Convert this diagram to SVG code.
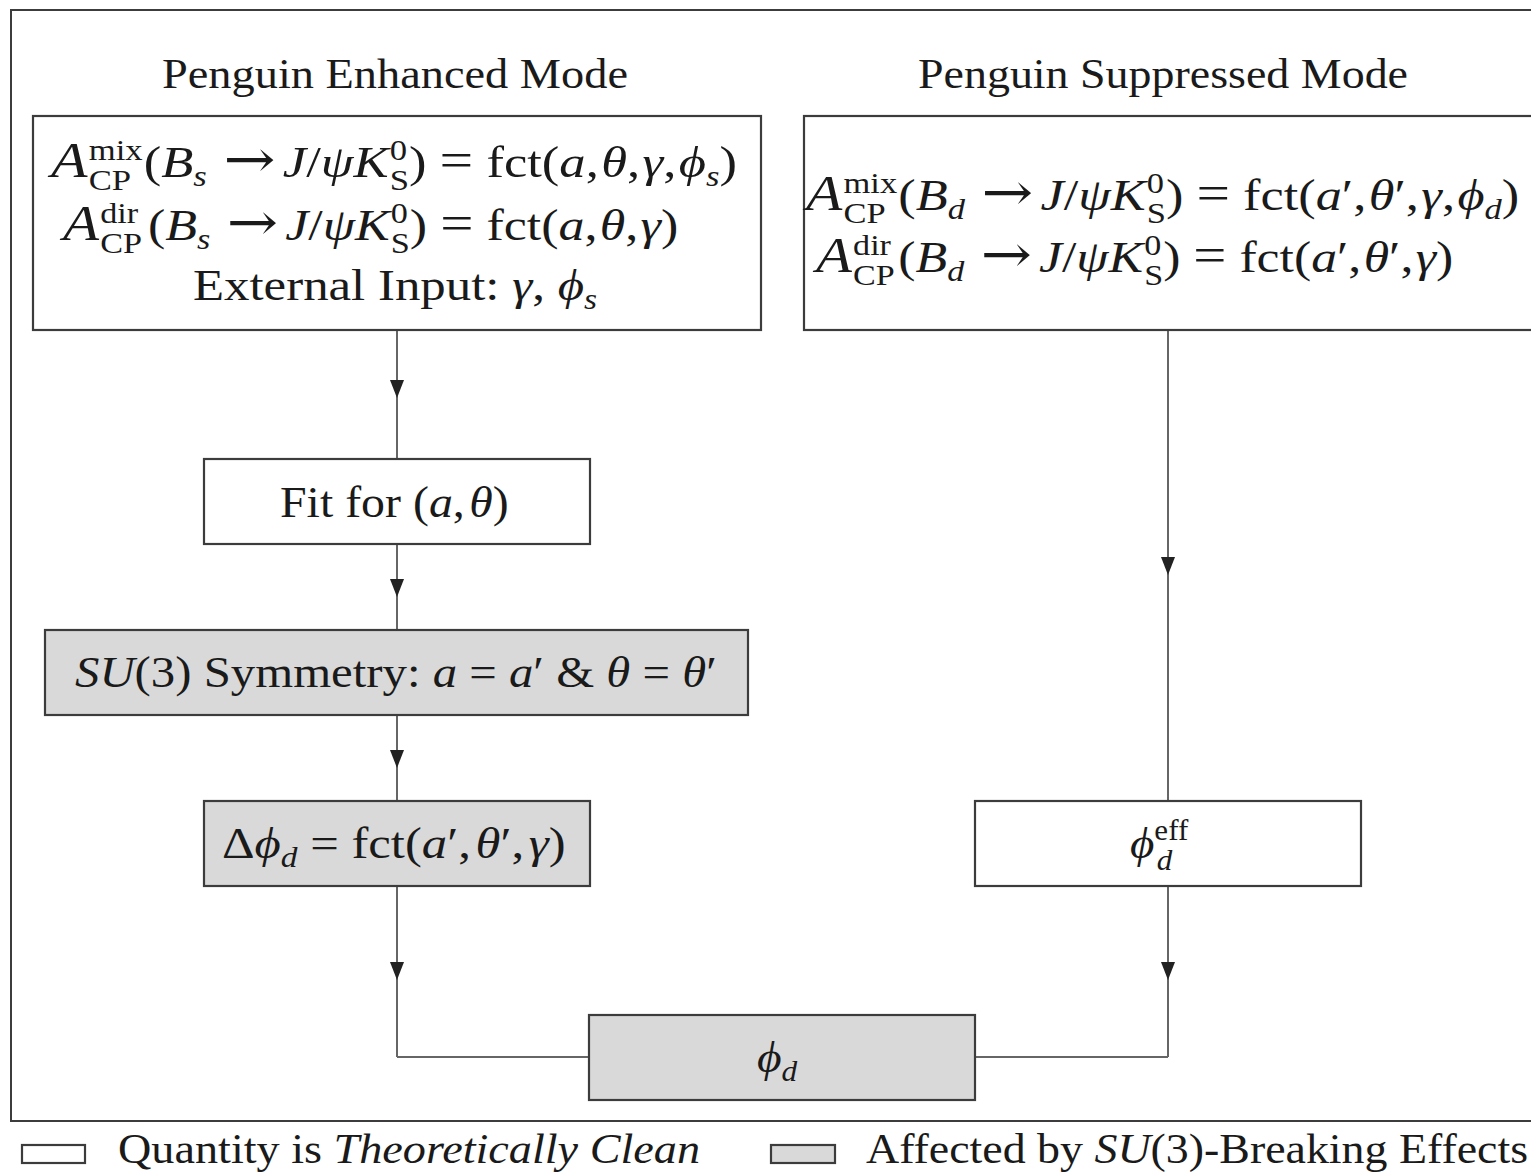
<svg xmlns="http://www.w3.org/2000/svg" width="1531" height="1172" viewBox="0 0 1531 1172">
<style>
.t{font-family:"Liberation Serif","DejaVu Serif",serif;font-size:44px;fill:#1a1a1a}
.h{font-size:42px}
.i{font-style:italic}
.big{font-size:50px}
.eq{font-size:50px}
.s{font-size:29px}
.ar{font-family:"DejaVu Serif","Liberation Serif",serif;font-size:52px}
.box{stroke:#3c3c3c;stroke-width:2.2;fill:#fff}
.gr{fill:#d9d9d9}
.ln{stroke:#666;stroke-width:2;fill:none}
</style>
<defs>
<marker id="ah" markerUnits="userSpaceOnUse" viewBox="-18 -8 19 16" markerWidth="19" markerHeight="16" refX="0" refY="0" orient="auto">
<path d="M-18,-7 L0,0 L-18,7 z" fill="#222"/>
</marker>
</defs>
<rect x="11" y="10" width="1530" height="1111" fill="#fff" stroke="#3c3c3c" stroke-width="2"/>
<text class="t h" x="395" y="88" text-anchor="middle" textLength="466" lengthAdjust="spacingAndGlyphs">Penguin Enhanced Mode</text>
<text class="t h" x="1163" y="88" text-anchor="middle" textLength="490" lengthAdjust="spacingAndGlyphs">Penguin Suppressed Mode</text>

<g id="connectors">
<path class="ln" d="M397 330 V398 V459" marker-mid="url(#ah)"/>
<path class="ln" d="M397 544 V597 V630" marker-mid="url(#ah)"/>
<path class="ln" d="M397 715 V768 V801" marker-mid="url(#ah)"/>
<path class="ln" d="M397 886 V980 V1057" marker-mid="url(#ah)"/>
<path class="ln" d="M397 1057 H589"/>
<path class="ln" d="M1168 330 V575 V801" marker-mid="url(#ah)"/>
<path class="ln" d="M1168 886 V980 V1057" marker-mid="url(#ah)"/>
<path class="ln" d="M1168 1057 H975"/>
</g>

<g id="enhanced">
<rect class="box" x="33" y="116" width="728" height="214"/>
<g transform="translate(51,177) scale(1.195,1)"><text class="t"><tspan class="i big">A</tspan><tspan class="s" dx="1" dy="-17">mix</tspan><tspan class="s" dx="-45.1" dy="30">CP</tspan><tspan dx="10.6" dy="-13">(</tspan><tspan class="i">B</tspan><tspan class="s i" dy="9">s</tspan><tspan class="ar" dx="14" dy="-9">→</tspan><tspan class="i" dx="6">J</tspan>/<tspan class="i">ψK</tspan><tspan class="s" dx="1" dy="-17">0</tspan><tspan class="s" dx="-14.5" dy="30">S</tspan><tspan dy="-13">) </tspan><tspan class="eq">=</tspan> fct(<tspan class="i">a</tspan>,<tspan class="i" dx="2">θ</tspan>,<tspan class="i" dx="2">γ</tspan>,<tspan class="i" dx="2">ϕ</tspan><tspan class="s i" dy="9">s</tspan><tspan dy="-9">)</tspan></text></g>
<g transform="translate(63,240) scale(1.18,1)"><text class="t"><tspan class="i big">A</tspan><tspan class="s" dx="1" dy="-17">dir</tspan><tspan class="s" dx="-32.2" dy="30">CP</tspan><tspan dx="5" dy="-13">(</tspan><tspan class="i">B</tspan><tspan class="s i" dy="9">s</tspan><tspan class="ar" dx="14" dy="-9">→</tspan><tspan class="i" dx="6">J</tspan>/<tspan class="i">ψK</tspan><tspan class="s" dx="1" dy="-17">0</tspan><tspan class="s" dx="-14.5" dy="30">S</tspan><tspan dy="-13">) </tspan><tspan class="eq">=</tspan> fct(<tspan class="i">a</tspan>,<tspan class="i" dx="2">θ</tspan>,<tspan class="i" dx="2">γ</tspan>)</text></g>
<g transform="translate(193,300) scale(1.156,1)"><text class="t">External Input: <tspan class="i">γ</tspan>, <tspan class="i">ϕ</tspan><tspan class="s i" dy="9">s</tspan></text></g>
</g>

<g id="suppressed">
<rect class="box" x="804" y="116" width="740" height="214"/>
<g transform="translate(806,210) scale(1.189,1)"><text class="t"><tspan class="i big">A</tspan><tspan class="s" dx="1" dy="-17">mix</tspan><tspan class="s" dx="-45.1" dy="30">CP</tspan><tspan dx="10.6" dy="-13">(</tspan><tspan class="i">B</tspan><tspan class="s i" dy="9">d</tspan><tspan class="ar" dx="14" dy="-9">→</tspan><tspan class="i" dx="6">J</tspan>/<tspan class="i">ψK</tspan><tspan class="s" dx="1" dy="-17">0</tspan><tspan class="s" dx="-14.5" dy="30">S</tspan><tspan dy="-13">) </tspan><tspan class="eq">=</tspan> fct(<tspan class="i">a</tspan>′,<tspan class="i" dx="2">θ</tspan>′,<tspan class="i" dx="2">γ</tspan>,<tspan class="i" dx="2">ϕ</tspan><tspan class="s i" dy="9">d</tspan><tspan dy="-9">)</tspan></text></g>
<g transform="translate(816,272) scale(1.176,1)"><text class="t"><tspan class="i big">A</tspan><tspan class="s" dx="1" dy="-17">dir</tspan><tspan class="s" dx="-32.2" dy="30">CP</tspan><tspan dx="3" dy="-13">(</tspan><tspan class="i">B</tspan><tspan class="s i" dy="9">d</tspan><tspan class="ar" dx="14" dy="-9">→</tspan><tspan class="i" dx="6">J</tspan>/<tspan class="i">ψK</tspan><tspan class="s" dx="1" dy="-17">0</tspan><tspan class="s" dx="-14.5" dy="30">S</tspan><tspan dy="-13">) </tspan><tspan class="eq">=</tspan> fct(<tspan class="i">a</tspan>′,<tspan class="i" dx="2">θ</tspan>′,<tspan class="i" dx="2">γ</tspan>)</text></g>
</g>

<g id="fit">
<rect class="box" x="204" y="459" width="386" height="85"/>
<g transform="translate(280,517) scale(1.088,1)"><text class="t">Fit for (<tspan class="i">a</tspan>,<tspan class="i" dx="4">θ</tspan>)</text></g>
</g>

<g id="su3">
<rect class="box gr" x="45" y="630" width="703" height="85"/>
<g transform="translate(75,687) scale(1.109,1)"><text class="t"><tspan class="i">SU</tspan>(3) Symmetry: <tspan class="i">a</tspan> = <tspan class="i">a</tspan>′ &amp; <tspan class="i">θ</tspan> = <tspan class="i">θ</tspan>′</text></g>
</g>

<g id="deltaphi">
<rect class="box gr" x="204" y="801" width="386" height="85"/>
<g transform="translate(222,858) scale(1.152,1)"><text class="t">Δ<tspan class="i">ϕ</tspan><tspan class="s i" dy="9">d</tspan><tspan dy="-9"> = fct(</tspan><tspan class="i">a</tspan>′,<tspan class="i" dx="4">θ</tspan>′,<tspan class="i" dx="4">γ</tspan>)</text></g>
</g>

<g id="phieff">
<rect class="box" x="975" y="801" width="386" height="85"/>
<g transform="translate(1130,858) scale(1.07,1)"><text class="t"><tspan class="i">ϕ</tspan><tspan class="s" dy="-18">eff</tspan><tspan class="s i" x="25" dy="30">d</tspan></text></g>
</g>

<g id="phid">
<rect class="box gr" x="589" y="1015" width="386" height="85"/>
<g transform="translate(757,1072) scale(1.08,1)"><text class="t"><tspan class="i">ϕ</tspan><tspan class="s i" dy="9">d</tspan></text></g>
</g>

<g id="legend">
<rect class="box" x="22" y="1145" width="63" height="18"/>
<text class="t h" x="118" y="1163" textLength="582" lengthAdjust="spacingAndGlyphs">Quantity is <tspan class="i">Theoretically Clean</tspan></text>
<rect class="box gr" x="771" y="1145" width="64" height="18"/>
<text class="t h" x="866" y="1163" textLength="662" lengthAdjust="spacingAndGlyphs">Affected by <tspan class="i">SU</tspan>(3)-Breaking Effects</text>
</g>
</svg>
